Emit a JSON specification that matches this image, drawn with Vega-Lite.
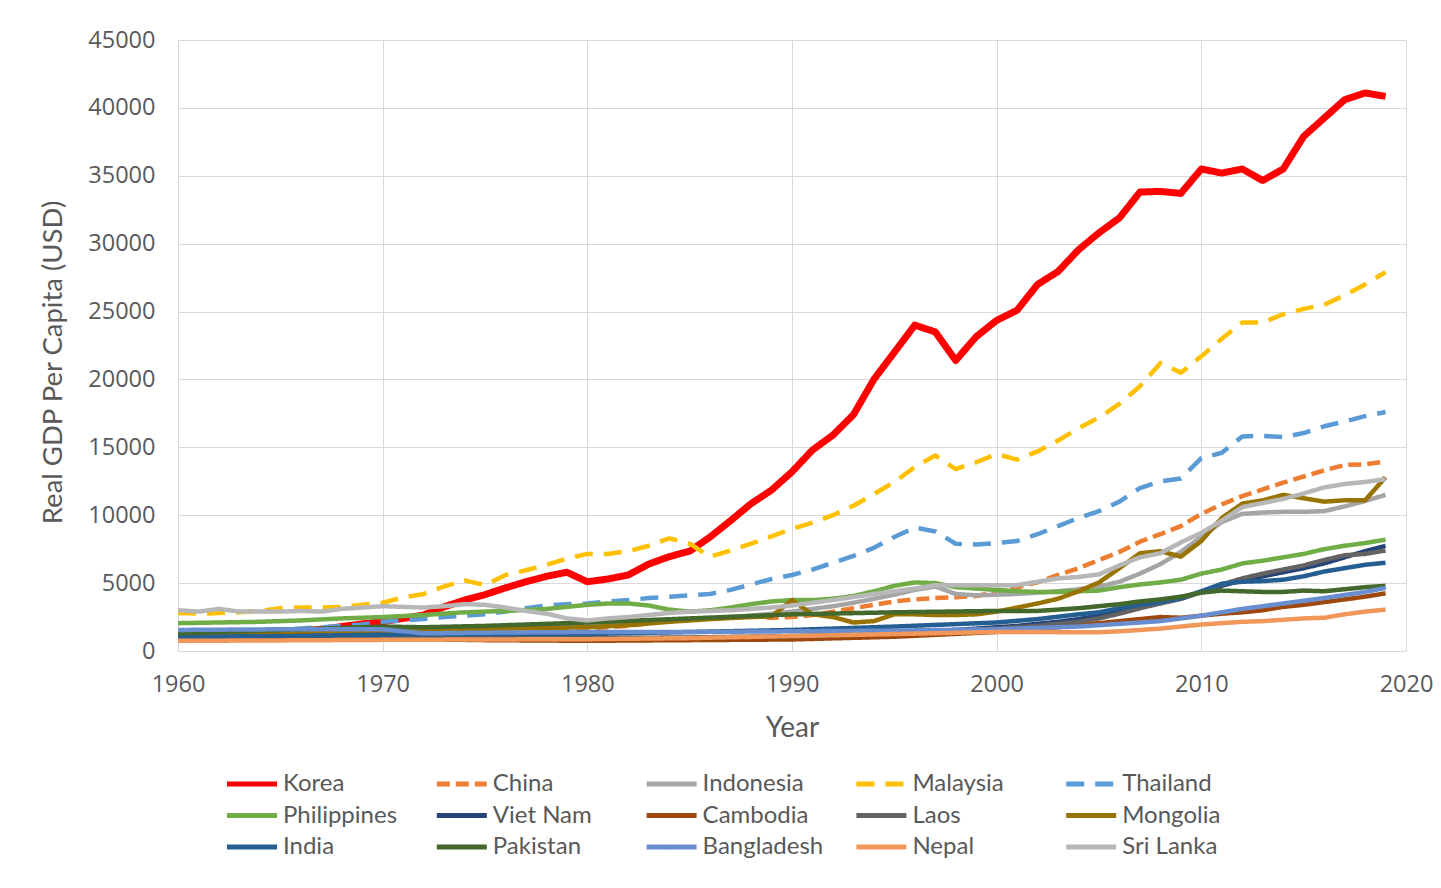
{
"$schema": "https://vega.github.io/schema/vega-lite/v6.json",
"width": 1228, "height": 611,
"autosize": {"type": "none"},
"padding": {"left": 178, "top": 40, "right": 35, "bottom": 237},
"background": "white",
"config": {"view": {"stroke": null}, "font": "Lato",
 "legend": {"symbolType": "M-5,0H5", "symbolSize": 100, "symbolStrokeWidth": 5, "labelFont": "Lato", "labelFontSize": 24, "labelColor": "#595959", "labelOffset": 19, "columnPadding": 22.8, "rowPadding": 7.5, "labelLimit": 300, "columns": 5, "direction": "horizontal", "gridAlign": "all"}},
"data": {"values": [
{"c":"Korea","yr":1960,"v":1100},{"c":"Korea","yr":1961,"v":1150},{"c":"Korea","yr":1962,"v":1150},{"c":"Korea","yr":1963,"v":1250},{"c":"Korea","yr":1964,"v":1300},{"c":"Korea","yr":1965,"v":1350},{"c":"Korea","yr":1966,"v":1450},{"c":"Korea","yr":1967,"v":1600},{"c":"Korea","yr":1968,"v":1800},{"c":"Korea","yr":1969,"v":2000},{"c":"Korea","yr":1970,"v":2150},{"c":"Korea","yr":1971,"v":2400},{"c":"Korea","yr":1972,"v":2650},{"c":"Korea","yr":1973,"v":3250},{"c":"Korea","yr":1974,"v":3750},{"c":"Korea","yr":1975,"v":4150},{"c":"Korea","yr":1976,"v":4650},{"c":"Korea","yr":1977,"v":5100},{"c":"Korea","yr":1978,"v":5500},{"c":"Korea","yr":1979,"v":5800},{"c":"Korea","yr":1980,"v":5100},{"c":"Korea","yr":1981,"v":5300},{"c":"Korea","yr":1982,"v":5600},{"c":"Korea","yr":1983,"v":6400},{"c":"Korea","yr":1984,"v":6950},{"c":"Korea","yr":1985,"v":7350},{"c":"Korea","yr":1986,"v":8400},{"c":"Korea","yr":1987,"v":9600},{"c":"Korea","yr":1988,"v":10850},{"c":"Korea","yr":1989,"v":11850},{"c":"Korea","yr":1990,"v":13200},{"c":"Korea","yr":1991,"v":14800},{"c":"Korea","yr":1992,"v":15900},{"c":"Korea","yr":1993,"v":17400},{"c":"Korea","yr":1994,"v":20000},{"c":"Korea","yr":1995,"v":22000},{"c":"Korea","yr":1996,"v":24000},{"c":"Korea","yr":1997,"v":23500},{"c":"Korea","yr":1998,"v":21400},{"c":"Korea","yr":1999,"v":23150},{"c":"Korea","yr":2000,"v":24350},{"c":"Korea","yr":2001,"v":25100},{"c":"Korea","yr":2002,"v":27000},{"c":"Korea","yr":2003,"v":27950},{"c":"Korea","yr":2004,"v":29550},{"c":"Korea","yr":2005,"v":30800},{"c":"Korea","yr":2006,"v":31900},{"c":"Korea","yr":2007,"v":33800},{"c":"Korea","yr":2008,"v":33850},{"c":"Korea","yr":2009,"v":33700},{"c":"Korea","yr":2010,"v":35500},{"c":"Korea","yr":2011,"v":35200},{"c":"Korea","yr":2012,"v":35500},{"c":"Korea","yr":2013,"v":34650},{"c":"Korea","yr":2014,"v":35500},{"c":"Korea","yr":2015,"v":37900},{"c":"Korea","yr":2016,"v":39250},{"c":"Korea","yr":2017,"v":40600},{"c":"Korea","yr":2018,"v":41100},{"c":"Korea","yr":2019,"v":40850},
{"c":"China","yr":1960,"v":1000},{"c":"China","yr":1961,"v":800},{"c":"China","yr":1962,"v":750},{"c":"China","yr":1963,"v":800},{"c":"China","yr":1964,"v":900},{"c":"China","yr":1965,"v":950},{"c":"China","yr":1966,"v":1000},{"c":"China","yr":1967,"v":950},{"c":"China","yr":1968,"v":900},{"c":"China","yr":1969,"v":1000},{"c":"China","yr":1970,"v":1100},{"c":"China","yr":1972,"v":1100},{"c":"China","yr":1974,"v":1150},{"c":"China","yr":1975,"v":1200},{"c":"China","yr":1976,"v":1150},{"c":"China","yr":1977,"v":1250},{"c":"China","yr":1978,"v":1350},{"c":"China","yr":1979,"v":1500},{"c":"China","yr":1980,"v":1650},{"c":"China","yr":1981,"v":1750},{"c":"China","yr":1982,"v":1850},{"c":"China","yr":1983,"v":2050},{"c":"China","yr":1984,"v":2250},{"c":"China","yr":1985,"v":2350},{"c":"China","yr":1986,"v":2400},{"c":"China","yr":1987,"v":2450},{"c":"China","yr":1988,"v":2550},{"c":"China","yr":1989,"v":2450},{"c":"China","yr":1990,"v":2500},{"c":"China","yr":1991,"v":2650},{"c":"China","yr":1992,"v":2900},{"c":"China","yr":1993,"v":3150},{"c":"China","yr":1994,"v":3400},{"c":"China","yr":1995,"v":3650},{"c":"China","yr":1996,"v":3800},{"c":"China","yr":1997,"v":3900},{"c":"China","yr":1998,"v":3950},{"c":"China","yr":1999,"v":4050},{"c":"China","yr":2000,"v":4350},{"c":"China","yr":2001,"v":4700},{"c":"China","yr":2002,"v":5050},{"c":"China","yr":2003,"v":5600},{"c":"China","yr":2004,"v":6100},{"c":"China","yr":2005,"v":6700},{"c":"China","yr":2006,"v":7300},{"c":"China","yr":2007,"v":8050},{"c":"China","yr":2008,"v":8600},{"c":"China","yr":2009,"v":9200},{"c":"China","yr":2010,"v":10100},{"c":"China","yr":2011,"v":10800},{"c":"China","yr":2012,"v":11400},{"c":"China","yr":2013,"v":11900},{"c":"China","yr":2014,"v":12400},{"c":"China","yr":2015,"v":12850},{"c":"China","yr":2016,"v":13300},{"c":"China","yr":2017,"v":13700},{"c":"China","yr":2018,"v":13750},{"c":"China","yr":2019,"v":13950},
{"c":"Indonesia","yr":1960,"v":1300},{"c":"Indonesia","yr":1962,"v":1300},{"c":"Indonesia","yr":1964,"v":1250},{"c":"Indonesia","yr":1966,"v":1200},{"c":"Indonesia","yr":1968,"v":1300},{"c":"Indonesia","yr":1970,"v":1400},{"c":"Indonesia","yr":1972,"v":1500},{"c":"Indonesia","yr":1974,"v":1650},{"c":"Indonesia","yr":1976,"v":1750},{"c":"Indonesia","yr":1978,"v":1900},{"c":"Indonesia","yr":1980,"v":2050},{"c":"Indonesia","yr":1982,"v":2150},{"c":"Indonesia","yr":1984,"v":2250},{"c":"Indonesia","yr":1986,"v":2400},{"c":"Indonesia","yr":1988,"v":2600},{"c":"Indonesia","yr":1990,"v":2900},{"c":"Indonesia","yr":1991,"v":3100},{"c":"Indonesia","yr":1992,"v":3300},{"c":"Indonesia","yr":1993,"v":3550},{"c":"Indonesia","yr":1994,"v":3850},{"c":"Indonesia","yr":1995,"v":4150},{"c":"Indonesia","yr":1996,"v":4500},{"c":"Indonesia","yr":1997,"v":4750},{"c":"Indonesia","yr":1998,"v":4200},{"c":"Indonesia","yr":1999,"v":4100},{"c":"Indonesia","yr":2000,"v":4150},{"c":"Indonesia","yr":2001,"v":4200},{"c":"Indonesia","yr":2002,"v":4300},{"c":"Indonesia","yr":2003,"v":4400},{"c":"Indonesia","yr":2004,"v":4550},{"c":"Indonesia","yr":2005,"v":4750},{"c":"Indonesia","yr":2006,"v":5100},{"c":"Indonesia","yr":2007,"v":5700},{"c":"Indonesia","yr":2008,"v":6400},{"c":"Indonesia","yr":2009,"v":7300},{"c":"Indonesia","yr":2010,"v":8400},{"c":"Indonesia","yr":2011,"v":9500},{"c":"Indonesia","yr":2012,"v":10100},{"c":"Indonesia","yr":2013,"v":10200},{"c":"Indonesia","yr":2014,"v":10250},{"c":"Indonesia","yr":2015,"v":10250},{"c":"Indonesia","yr":2016,"v":10300},{"c":"Indonesia","yr":2017,"v":10650},{"c":"Indonesia","yr":2018,"v":11050},{"c":"Indonesia","yr":2019,"v":11500},
{"c":"Malaysia","yr":1960,"v":2800},{"c":"Malaysia","yr":1961,"v":2750},{"c":"Malaysia","yr":1962,"v":2800},{"c":"Malaysia","yr":1963,"v":2850},{"c":"Malaysia","yr":1964,"v":2950},{"c":"Malaysia","yr":1965,"v":3150},{"c":"Malaysia","yr":1966,"v":3200},{"c":"Malaysia","yr":1967,"v":3200},{"c":"Malaysia","yr":1968,"v":3250},{"c":"Malaysia","yr":1969,"v":3400},{"c":"Malaysia","yr":1970,"v":3550},{"c":"Malaysia","yr":1971,"v":3950},{"c":"Malaysia","yr":1972,"v":4200},{"c":"Malaysia","yr":1973,"v":4750},{"c":"Malaysia","yr":1974,"v":5200},{"c":"Malaysia","yr":1975,"v":4850},{"c":"Malaysia","yr":1976,"v":5600},{"c":"Malaysia","yr":1977,"v":5950},{"c":"Malaysia","yr":1978,"v":6350},{"c":"Malaysia","yr":1979,"v":6800},{"c":"Malaysia","yr":1980,"v":7150},{"c":"Malaysia","yr":1981,"v":7150},{"c":"Malaysia","yr":1982,"v":7350},{"c":"Malaysia","yr":1983,"v":7750},{"c":"Malaysia","yr":1984,"v":8300},{"c":"Malaysia","yr":1985,"v":7900},{"c":"Malaysia","yr":1986,"v":6950},{"c":"Malaysia","yr":1987,"v":7400},{"c":"Malaysia","yr":1988,"v":7900},{"c":"Malaysia","yr":1989,"v":8450},{"c":"Malaysia","yr":1990,"v":9000},{"c":"Malaysia","yr":1991,"v":9450},{"c":"Malaysia","yr":1992,"v":10000},{"c":"Malaysia","yr":1993,"v":10700},{"c":"Malaysia","yr":1994,"v":11550},{"c":"Malaysia","yr":1995,"v":12450},{"c":"Malaysia","yr":1996,"v":13550},{"c":"Malaysia","yr":1997,"v":14400},{"c":"Malaysia","yr":1998,"v":13400},{"c":"Malaysia","yr":1999,"v":13900},{"c":"Malaysia","yr":2000,"v":14500},{"c":"Malaysia","yr":2001,"v":14100},{"c":"Malaysia","yr":2002,"v":14700},{"c":"Malaysia","yr":2003,"v":15500},{"c":"Malaysia","yr":2004,"v":16400},{"c":"Malaysia","yr":2005,"v":17200},{"c":"Malaysia","yr":2006,"v":18200},{"c":"Malaysia","yr":2007,"v":19500},{"c":"Malaysia","yr":2008,"v":21200},{"c":"Malaysia","yr":2009,"v":20500},{"c":"Malaysia","yr":2010,"v":21700},{"c":"Malaysia","yr":2011,"v":23000},{"c":"Malaysia","yr":2012,"v":24200},{"c":"Malaysia","yr":2013,"v":24200},{"c":"Malaysia","yr":2014,"v":24800},{"c":"Malaysia","yr":2015,"v":25200},{"c":"Malaysia","yr":2016,"v":25500},{"c":"Malaysia","yr":2017,"v":26200},{"c":"Malaysia","yr":2018,"v":27000},{"c":"Malaysia","yr":2019,"v":27900},
{"c":"Thailand","yr":1960,"v":1250},{"c":"Thailand","yr":1962,"v":1350},{"c":"Thailand","yr":1964,"v":1450},{"c":"Thailand","yr":1966,"v":1650},{"c":"Thailand","yr":1968,"v":1850},{"c":"Thailand","yr":1969,"v":1950},{"c":"Thailand","yr":1970,"v":2150},{"c":"Thailand","yr":1971,"v":2250},{"c":"Thailand","yr":1972,"v":2350},{"c":"Thailand","yr":1973,"v":2500},{"c":"Thailand","yr":1974,"v":2600},{"c":"Thailand","yr":1975,"v":2700},{"c":"Thailand","yr":1976,"v":2900},{"c":"Thailand","yr":1977,"v":3150},{"c":"Thailand","yr":1978,"v":3350},{"c":"Thailand","yr":1979,"v":3450},{"c":"Thailand","yr":1980,"v":3500},{"c":"Thailand","yr":1981,"v":3650},{"c":"Thailand","yr":1982,"v":3750},{"c":"Thailand","yr":1983,"v":3900},{"c":"Thailand","yr":1984,"v":4000},{"c":"Thailand","yr":1985,"v":4100},{"c":"Thailand","yr":1986,"v":4200},{"c":"Thailand","yr":1987,"v":4500},{"c":"Thailand","yr":1988,"v":4900},{"c":"Thailand","yr":1989,"v":5300},{"c":"Thailand","yr":1990,"v":5600},{"c":"Thailand","yr":1991,"v":6000},{"c":"Thailand","yr":1992,"v":6500},{"c":"Thailand","yr":1993,"v":7000},{"c":"Thailand","yr":1994,"v":7600},{"c":"Thailand","yr":1995,"v":8400},{"c":"Thailand","yr":1996,"v":9100},{"c":"Thailand","yr":1997,"v":8800},{"c":"Thailand","yr":1998,"v":7900},{"c":"Thailand","yr":1999,"v":7850},{"c":"Thailand","yr":2000,"v":7950},{"c":"Thailand","yr":2001,"v":8100},{"c":"Thailand","yr":2002,"v":8600},{"c":"Thailand","yr":2003,"v":9200},{"c":"Thailand","yr":2004,"v":9800},{"c":"Thailand","yr":2005,"v":10300},{"c":"Thailand","yr":2006,"v":11000},{"c":"Thailand","yr":2007,"v":12000},{"c":"Thailand","yr":2008,"v":12500},{"c":"Thailand","yr":2009,"v":12700},{"c":"Thailand","yr":2010,"v":14200},{"c":"Thailand","yr":2011,"v":14600},{"c":"Thailand","yr":2012,"v":15800},{"c":"Thailand","yr":2013,"v":15850},{"c":"Thailand","yr":2014,"v":15750},{"c":"Thailand","yr":2015,"v":16050},{"c":"Thailand","yr":2016,"v":16550},{"c":"Thailand","yr":2017,"v":16900},{"c":"Thailand","yr":2018,"v":17300},{"c":"Thailand","yr":2019,"v":17600},
{"c":"Philippines","yr":1960,"v":2050},{"c":"Philippines","yr":1962,"v":2100},{"c":"Philippines","yr":1964,"v":2150},{"c":"Philippines","yr":1966,"v":2250},{"c":"Philippines","yr":1968,"v":2400},{"c":"Philippines","yr":1970,"v":2500},{"c":"Philippines","yr":1972,"v":2650},{"c":"Philippines","yr":1974,"v":2850},{"c":"Philippines","yr":1976,"v":2950},{"c":"Philippines","yr":1978,"v":3100},{"c":"Philippines","yr":1979,"v":3250},{"c":"Philippines","yr":1980,"v":3400},{"c":"Philippines","yr":1981,"v":3500},{"c":"Philippines","yr":1982,"v":3500},{"c":"Philippines","yr":1983,"v":3350},{"c":"Philippines","yr":1984,"v":3050},{"c":"Philippines","yr":1985,"v":2900},{"c":"Philippines","yr":1986,"v":3000},{"c":"Philippines","yr":1987,"v":3200},{"c":"Philippines","yr":1988,"v":3450},{"c":"Philippines","yr":1989,"v":3650},{"c":"Philippines","yr":1990,"v":3750},{"c":"Philippines","yr":1991,"v":3750},{"c":"Philippines","yr":1992,"v":3850},{"c":"Philippines","yr":1993,"v":4050},{"c":"Philippines","yr":1994,"v":4400},{"c":"Philippines","yr":1995,"v":4800},{"c":"Philippines","yr":1996,"v":5050},{"c":"Philippines","yr":1997,"v":5000},{"c":"Philippines","yr":1998,"v":4700},{"c":"Philippines","yr":1999,"v":4600},{"c":"Philippines","yr":2000,"v":4500},{"c":"Philippines","yr":2001,"v":4400},{"c":"Philippines","yr":2002,"v":4350},{"c":"Philippines","yr":2003,"v":4350},{"c":"Philippines","yr":2004,"v":4400},{"c":"Philippines","yr":2005,"v":4450},{"c":"Philippines","yr":2006,"v":4700},{"c":"Philippines","yr":2007,"v":4900},{"c":"Philippines","yr":2008,"v":5050},{"c":"Philippines","yr":2009,"v":5250},{"c":"Philippines","yr":2010,"v":5700},{"c":"Philippines","yr":2011,"v":6000},{"c":"Philippines","yr":2012,"v":6450},{"c":"Philippines","yr":2013,"v":6650},{"c":"Philippines","yr":2014,"v":6900},{"c":"Philippines","yr":2015,"v":7150},{"c":"Philippines","yr":2016,"v":7500},{"c":"Philippines","yr":2017,"v":7750},{"c":"Philippines","yr":2018,"v":7950},{"c":"Philippines","yr":2019,"v":8200},
{"c":"Viet Nam","yr":1960,"v":1000},{"c":"Viet Nam","yr":1965,"v":1050},{"c":"Viet Nam","yr":1970,"v":1000},{"c":"Viet Nam","yr":1975,"v":950},{"c":"Viet Nam","yr":1980,"v":900},{"c":"Viet Nam","yr":1985,"v":950},{"c":"Viet Nam","yr":1990,"v":1050},{"c":"Viet Nam","yr":1995,"v":1350},{"c":"Viet Nam","yr":1998,"v":1550},{"c":"Viet Nam","yr":2000,"v":1750},{"c":"Viet Nam","yr":2001,"v":1850},{"c":"Viet Nam","yr":2002,"v":2000},{"c":"Viet Nam","yr":2003,"v":2150},{"c":"Viet Nam","yr":2004,"v":2350},{"c":"Viet Nam","yr":2005,"v":2600},{"c":"Viet Nam","yr":2006,"v":2900},{"c":"Viet Nam","yr":2007,"v":3250},{"c":"Viet Nam","yr":2008,"v":3550},{"c":"Viet Nam","yr":2009,"v":3850},{"c":"Viet Nam","yr":2010,"v":4350},{"c":"Viet Nam","yr":2011,"v":4800},{"c":"Viet Nam","yr":2012,"v":5200},{"c":"Viet Nam","yr":2013,"v":5500},{"c":"Viet Nam","yr":2014,"v":5800},{"c":"Viet Nam","yr":2015,"v":6100},{"c":"Viet Nam","yr":2016,"v":6450},{"c":"Viet Nam","yr":2017,"v":6900},{"c":"Viet Nam","yr":2018,"v":7350},{"c":"Viet Nam","yr":2019,"v":7750},
{"c":"Cambodia","yr":1960,"v":850},{"c":"Cambodia","yr":1965,"v":950},{"c":"Cambodia","yr":1970,"v":900},{"c":"Cambodia","yr":1975,"v":800},{"c":"Cambodia","yr":1980,"v":750},{"c":"Cambodia","yr":1985,"v":800},{"c":"Cambodia","yr":1990,"v":850},{"c":"Cambodia","yr":1995,"v":1050},{"c":"Cambodia","yr":2000,"v":1400},{"c":"Cambodia","yr":2002,"v":1600},{"c":"Cambodia","yr":2003,"v":1750},{"c":"Cambodia","yr":2004,"v":1900},{"c":"Cambodia","yr":2005,"v":2050},{"c":"Cambodia","yr":2006,"v":2200},{"c":"Cambodia","yr":2007,"v":2350},{"c":"Cambodia","yr":2008,"v":2500},{"c":"Cambodia","yr":2009,"v":2450},{"c":"Cambodia","yr":2010,"v":2600},{"c":"Cambodia","yr":2011,"v":2750},{"c":"Cambodia","yr":2012,"v":2850},{"c":"Cambodia","yr":2013,"v":3000},{"c":"Cambodia","yr":2014,"v":3250},{"c":"Cambodia","yr":2015,"v":3400},{"c":"Cambodia","yr":2016,"v":3600},{"c":"Cambodia","yr":2017,"v":3800},{"c":"Cambodia","yr":2018,"v":4000},{"c":"Cambodia","yr":2019,"v":4250},
{"c":"Laos","yr":1960,"v":900},{"c":"Laos","yr":1965,"v":950},{"c":"Laos","yr":1970,"v":1000},{"c":"Laos","yr":1975,"v":950},{"c":"Laos","yr":1980,"v":950},{"c":"Laos","yr":1985,"v":1000},{"c":"Laos","yr":1990,"v":1100},{"c":"Laos","yr":1995,"v":1300},{"c":"Laos","yr":2000,"v":1650},{"c":"Laos","yr":2002,"v":1850},{"c":"Laos","yr":2004,"v":2150},{"c":"Laos","yr":2005,"v":2400},{"c":"Laos","yr":2006,"v":2750},{"c":"Laos","yr":2007,"v":3150},{"c":"Laos","yr":2008,"v":3500},{"c":"Laos","yr":2009,"v":3850},{"c":"Laos","yr":2010,"v":4350},{"c":"Laos","yr":2011,"v":4900},{"c":"Laos","yr":2012,"v":5350},{"c":"Laos","yr":2013,"v":5700},{"c":"Laos","yr":2014,"v":6000},{"c":"Laos","yr":2015,"v":6300},{"c":"Laos","yr":2016,"v":6700},{"c":"Laos","yr":2017,"v":7050},{"c":"Laos","yr":2018,"v":7150},{"c":"Laos","yr":2019,"v":7400},
{"c":"Mongolia","yr":1960,"v":1200},{"c":"Mongolia","yr":1965,"v":1350},{"c":"Mongolia","yr":1970,"v":1450},{"c":"Mongolia","yr":1975,"v":1600},{"c":"Mongolia","yr":1978,"v":1700},{"c":"Mongolia","yr":1980,"v":1750},{"c":"Mongolia","yr":1982,"v":1900},{"c":"Mongolia","yr":1984,"v":2150},{"c":"Mongolia","yr":1986,"v":2350},{"c":"Mongolia","yr":1988,"v":2500},{"c":"Mongolia","yr":1989,"v":2550},{"c":"Mongolia","yr":1990,"v":3750},{"c":"Mongolia","yr":1991,"v":2700},{"c":"Mongolia","yr":1992,"v":2500},{"c":"Mongolia","yr":1993,"v":2100},{"c":"Mongolia","yr":1994,"v":2200},{"c":"Mongolia","yr":1995,"v":2700},{"c":"Mongolia","yr":1996,"v":2700},{"c":"Mongolia","yr":1997,"v":2650},{"c":"Mongolia","yr":1998,"v":2650},{"c":"Mongolia","yr":1999,"v":2700},{"c":"Mongolia","yr":2000,"v":2900},{"c":"Mongolia","yr":2001,"v":3200},{"c":"Mongolia","yr":2002,"v":3500},{"c":"Mongolia","yr":2003,"v":3850},{"c":"Mongolia","yr":2004,"v":4400},{"c":"Mongolia","yr":2005,"v":5050},{"c":"Mongolia","yr":2006,"v":6100},{"c":"Mongolia","yr":2007,"v":7200},{"c":"Mongolia","yr":2008,"v":7350},{"c":"Mongolia","yr":2009,"v":6950},{"c":"Mongolia","yr":2010,"v":8100},{"c":"Mongolia","yr":2011,"v":9800},{"c":"Mongolia","yr":2012,"v":10850},{"c":"Mongolia","yr":2013,"v":11100},{"c":"Mongolia","yr":2014,"v":11500},{"c":"Mongolia","yr":2015,"v":11250},{"c":"Mongolia","yr":2016,"v":11000},{"c":"Mongolia","yr":2017,"v":11100},{"c":"Mongolia","yr":2018,"v":11100},{"c":"Mongolia","yr":2019,"v":12800},
{"c":"India","yr":1960,"v":1050},{"c":"India","yr":1965,"v":1100},{"c":"India","yr":1970,"v":1200},{"c":"India","yr":1975,"v":1250},{"c":"India","yr":1980,"v":1250},{"c":"India","yr":1985,"v":1400},{"c":"India","yr":1990,"v":1550},{"c":"India","yr":1995,"v":1800},{"c":"India","yr":2000,"v":2100},{"c":"India","yr":2002,"v":2350},{"c":"India","yr":2004,"v":2700},{"c":"India","yr":2005,"v":2850},{"c":"India","yr":2006,"v":3150},{"c":"India","yr":2007,"v":3400},{"c":"India","yr":2008,"v":3600},{"c":"India","yr":2009,"v":3900},{"c":"India","yr":2010,"v":4400},{"c":"India","yr":2011,"v":4950},{"c":"India","yr":2012,"v":5100},{"c":"India","yr":2013,"v":5150},{"c":"India","yr":2014,"v":5250},{"c":"India","yr":2015,"v":5500},{"c":"India","yr":2016,"v":5850},{"c":"India","yr":2017,"v":6100},{"c":"India","yr":2018,"v":6350},{"c":"India","yr":2019,"v":6500},
{"c":"Pakistan","yr":1960,"v":1300},{"c":"Pakistan","yr":1965,"v":1550},{"c":"Pakistan","yr":1970,"v":1800},{"c":"Pakistan","yr":1972,"v":1750},{"c":"Pakistan","yr":1975,"v":1850},{"c":"Pakistan","yr":1980,"v":2100},{"c":"Pakistan","yr":1985,"v":2400},{"c":"Pakistan","yr":1990,"v":2700},{"c":"Pakistan","yr":1995,"v":2850},{"c":"Pakistan","yr":2000,"v":2950},{"c":"Pakistan","yr":2002,"v":2950},{"c":"Pakistan","yr":2004,"v":3150},{"c":"Pakistan","yr":2005,"v":3300},{"c":"Pakistan","yr":2006,"v":3450},{"c":"Pakistan","yr":2007,"v":3650},{"c":"Pakistan","yr":2008,"v":3800},{"c":"Pakistan","yr":2009,"v":4000},{"c":"Pakistan","yr":2010,"v":4300},{"c":"Pakistan","yr":2011,"v":4450},{"c":"Pakistan","yr":2012,"v":4400},{"c":"Pakistan","yr":2013,"v":4350},{"c":"Pakistan","yr":2014,"v":4350},{"c":"Pakistan","yr":2015,"v":4450},{"c":"Pakistan","yr":2016,"v":4400},{"c":"Pakistan","yr":2017,"v":4550},{"c":"Pakistan","yr":2018,"v":4700},{"c":"Pakistan","yr":2019,"v":4800},
{"c":"Bangladesh","yr":1960,"v":1550},{"c":"Bangladesh","yr":1965,"v":1600},{"c":"Bangladesh","yr":1970,"v":1600},{"c":"Bangladesh","yr":1972,"v":1300},{"c":"Bangladesh","yr":1975,"v":1350},{"c":"Bangladesh","yr":1980,"v":1400},{"c":"Bangladesh","yr":1985,"v":1400},{"c":"Bangladesh","yr":1990,"v":1450},{"c":"Bangladesh","yr":1995,"v":1500},{"c":"Bangladesh","yr":2000,"v":1600},{"c":"Bangladesh","yr":2002,"v":1700},{"c":"Bangladesh","yr":2004,"v":1800},{"c":"Bangladesh","yr":2006,"v":2000},{"c":"Bangladesh","yr":2008,"v":2200},{"c":"Bangladesh","yr":2010,"v":2600},{"c":"Bangladesh","yr":2012,"v":3100},{"c":"Bangladesh","yr":2014,"v":3500},{"c":"Bangladesh","yr":2016,"v":3900},{"c":"Bangladesh","yr":2018,"v":4350},{"c":"Bangladesh","yr":2019,"v":4650},
{"c":"Nepal","yr":1960,"v":750},{"c":"Nepal","yr":1965,"v":780},{"c":"Nepal","yr":1970,"v":820},{"c":"Nepal","yr":1975,"v":850},{"c":"Nepal","yr":1980,"v":870},{"c":"Nepal","yr":1985,"v":950},{"c":"Nepal","yr":1990,"v":1100},{"c":"Nepal","yr":1995,"v":1250},{"c":"Nepal","yr":2000,"v":1400},{"c":"Nepal","yr":2002,"v":1400},{"c":"Nepal","yr":2004,"v":1380},{"c":"Nepal","yr":2005,"v":1380},{"c":"Nepal","yr":2006,"v":1450},{"c":"Nepal","yr":2007,"v":1550},{"c":"Nepal","yr":2008,"v":1650},{"c":"Nepal","yr":2009,"v":1800},{"c":"Nepal","yr":2010,"v":1950},{"c":"Nepal","yr":2011,"v":2050},{"c":"Nepal","yr":2012,"v":2150},{"c":"Nepal","yr":2013,"v":2200},{"c":"Nepal","yr":2014,"v":2300},{"c":"Nepal","yr":2015,"v":2400},{"c":"Nepal","yr":2016,"v":2450},{"c":"Nepal","yr":2017,"v":2700},{"c":"Nepal","yr":2018,"v":2900},{"c":"Nepal","yr":2019,"v":3050},
{"c":"Sri Lanka","yr":1960,"v":3000},{"c":"Sri Lanka","yr":1961,"v":2900},{"c":"Sri Lanka","yr":1962,"v":3100},{"c":"Sri Lanka","yr":1963,"v":2900},{"c":"Sri Lanka","yr":1965,"v":2900},{"c":"Sri Lanka","yr":1966,"v":2950},{"c":"Sri Lanka","yr":1967,"v":2900},{"c":"Sri Lanka","yr":1968,"v":3100},{"c":"Sri Lanka","yr":1969,"v":3200},{"c":"Sri Lanka","yr":1970,"v":3300},{"c":"Sri Lanka","yr":1971,"v":3250},{"c":"Sri Lanka","yr":1972,"v":3200},{"c":"Sri Lanka","yr":1973,"v":3300},{"c":"Sri Lanka","yr":1974,"v":3450},{"c":"Sri Lanka","yr":1975,"v":3400},{"c":"Sri Lanka","yr":1976,"v":3200},{"c":"Sri Lanka","yr":1977,"v":2950},{"c":"Sri Lanka","yr":1978,"v":2750},{"c":"Sri Lanka","yr":1979,"v":2400},{"c":"Sri Lanka","yr":1980,"v":2250},{"c":"Sri Lanka","yr":1981,"v":2400},{"c":"Sri Lanka","yr":1982,"v":2500},{"c":"Sri Lanka","yr":1983,"v":2650},{"c":"Sri Lanka","yr":1984,"v":2800},{"c":"Sri Lanka","yr":1985,"v":2900},{"c":"Sri Lanka","yr":1986,"v":2950},{"c":"Sri Lanka","yr":1987,"v":3000},{"c":"Sri Lanka","yr":1988,"v":3100},{"c":"Sri Lanka","yr":1989,"v":3200},{"c":"Sri Lanka","yr":1990,"v":3350},{"c":"Sri Lanka","yr":1992,"v":3750},{"c":"Sri Lanka","yr":1994,"v":4200},{"c":"Sri Lanka","yr":1996,"v":4600},{"c":"Sri Lanka","yr":1997,"v":4850},{"c":"Sri Lanka","yr":1998,"v":4850},{"c":"Sri Lanka","yr":1999,"v":4850},{"c":"Sri Lanka","yr":2000,"v":4850},{"c":"Sri Lanka","yr":2001,"v":4850},{"c":"Sri Lanka","yr":2002,"v":5100},{"c":"Sri Lanka","yr":2003,"v":5350},{"c":"Sri Lanka","yr":2004,"v":5450},{"c":"Sri Lanka","yr":2005,"v":5650},{"c":"Sri Lanka","yr":2006,"v":6300},{"c":"Sri Lanka","yr":2007,"v":6900},{"c":"Sri Lanka","yr":2008,"v":7200},{"c":"Sri Lanka","yr":2009,"v":8000},{"c":"Sri Lanka","yr":2010,"v":8700},{"c":"Sri Lanka","yr":2011,"v":9600},{"c":"Sri Lanka","yr":2012,"v":10600},{"c":"Sri Lanka","yr":2013,"v":10900},{"c":"Sri Lanka","yr":2014,"v":11200},{"c":"Sri Lanka","yr":2015,"v":11600},{"c":"Sri Lanka","yr":2016,"v":12050},{"c":"Sri Lanka","yr":2017,"v":12300},{"c":"Sri Lanka","yr":2018,"v":12450},{"c":"Sri Lanka","yr":2019,"v":12650}
]},
"encoding": {
 "x": {"field": "yr", "type": "quantitative", "scale": {"domain": [1960, 2020], "nice": false, "zero": false},
  "axis": {"values": [1960,1970,1980,1990,2000,2010,2020], "format": "d", "title": "Year", "grid": true, "gridColor": "#d9d9d9", "gridWidth": 1, "domain": false, "ticks": false, "labelFont": "Open Sans", "labelFontSize": 23.5, "labelColor": "#595959", "labelPadding": 21, "labelFlush": false, "titleFont": "Lato", "titleFontSize": 28, "titleFontWeight": "normal", "titleColor": "#595959", "titlePadding": 19}},
 "y": {"field": "v", "type": "quantitative", "scale": {"domain": [0, 45000], "nice": false},
  "axis": {"values": [0,5000,10000,15000,20000,25000,30000,35000,40000,45000], "format": "d", "title": "Real GDP Per Capita (USD)", "grid": true, "gridColor": "#d9d9d9", "gridWidth": 1, "domain": false, "ticks": false, "labelFont": "Open Sans", "labelFontSize": 23.5, "labelColor": "#595959", "labelPadding": 23, "titleFont": "Lato", "titleFontSize": 27.5, "titleFontWeight": "normal", "titleColor": "#595959", "titlePadding": 20, "titleY": 322}},
 "color": {"field": "c", "type": "nominal", "title": null,
  "scale": {"domain": ["Korea","China","Indonesia","Malaysia","Thailand","Philippines","Viet Nam","Cambodia","Laos","Mongolia","India","Pakistan","Bangladesh","Nepal","Sri Lanka"],
   "range": ["#FF0000","#ED7D31","#A5A5A5","#FFC000","#5B9BD5","#70AD47","#264478","#9E480E","#636363","#997300","#255E91","#43682B","#698ED0","#F1975A","#B7B7B7"]},
  "legend": {"orient": "none", "legendX": 62, "legendY": 732, "symbolType": "M-5,0H5", "symbolSize": 100, "symbolStrokeWidth": 5}},
 "strokeDash": {"field": "c", "type": "nominal", "title": null,
  "scale": {"domain": ["Korea","China","Indonesia","Malaysia","Thailand","Philippines","Viet Nam","Cambodia","Laos","Mongolia","India","Pakistan","Bangladesh","Nepal","Sri Lanka"],
   "range": [[1,0],[13,6],[1,0],[18,11],[18,11],[1,0],[1,0],[1,0],[1,0],[1,0],[1,0],[1,0],[1,0],[1,0],[1,0]]},
  "legend": {"orient": "none", "legendX": 62, "legendY": 732, "symbolType": "M-5,0H5", "symbolSize": 100, "symbolStrokeWidth": 5}}
},
"layer": [
 {"transform": [{"filter": "datum.c === 'Korea'"}], "mark": {"type": "line", "strokeJoin": "round", "strokeWidth": 7, "clip": false}},
 {"transform": [{"filter": "datum.c !== 'Korea'"}], "mark": {"type": "line", "strokeJoin": "round", "strokeWidth": 4.5, "clip": false}}
]
}
